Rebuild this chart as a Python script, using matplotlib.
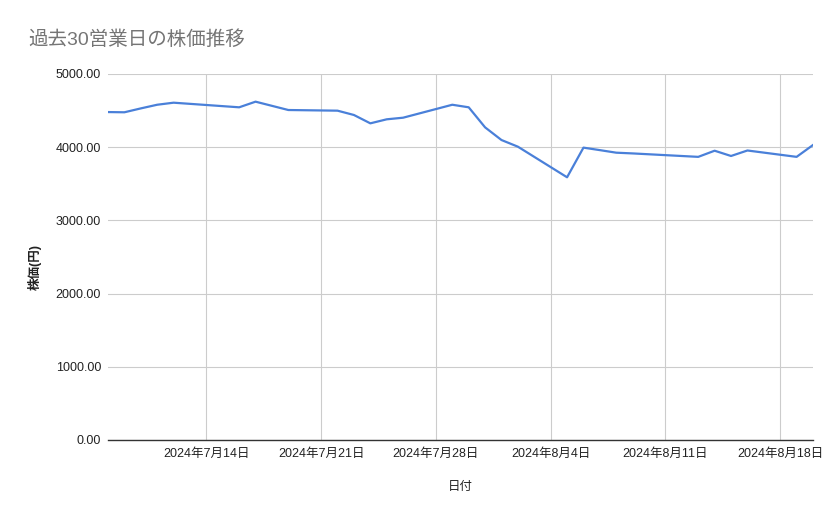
import matplotlib
matplotlib.use("Agg")
import matplotlib.pyplot as plt
import matplotlib.dates as mdates
import matplotlib.ticker as mticker
import pandas as pd

plt.rcParams['font.family'] = ['Liberation Sans', 'Noto Sans CJK JP', 'DejaVu Sans']

dates = ["2024-07-08", "2024-07-09", "2024-07-10", "2024-07-11", "2024-07-12",
         "2024-07-16", "2024-07-17", "2024-07-18", "2024-07-19",
         "2024-07-22", "2024-07-23", "2024-07-24", "2024-07-25", "2024-07-26",
         "2024-07-29", "2024-07-30", "2024-07-31", "2024-08-01", "2024-08-02",
         "2024-08-05", "2024-08-06", "2024-08-07", "2024-08-08", "2024-08-09",
         "2024-08-13", "2024-08-14", "2024-08-15", "2024-08-16",
         "2024-08-19", "2024-08-20"]
prices = [4480, 4477, 4530, 4580, 4608,
          4545, 4622, 4565, 4508,
          4499, 4440, 4326, 4381, 4403,
          4580, 4545, 4271, 4098, 4007,
          3589, 3994, 3960, 3925, 3915,
          3868, 3952, 3880, 3955,
          3868, 4030]

title = "過去30営業日の株価推移"
xlabel = "日付"
ylabel = "株価(円)"
yticks = [0, 1000, 2000, 3000, 4000, 5000]

x = pd.to_datetime(dates)

fig = plt.figure(figsize=(8.39, 5.19), dpi=100)
ax = fig.add_axes([108/839, 1-440/519, (813-108)/839, (440-74)/519])

ax.plot(x, prices, color='#4a80d9', linewidth=1.6, zorder=3)

ax.set_ylim(0, 5000)
ax.set_xlim(x[0], x[-1])
ax.set_yticks(yticks)
ax.yaxis.set_major_formatter(mticker.FuncFormatter(lambda v, p: f"{v:.2f}"))
ax.xaxis.set_major_locator(mdates.WeekdayLocator(byweekday=mdates.SU))
ax.xaxis.set_major_formatter(mticker.FuncFormatter(
    lambda v, p: (lambda d: f"{d.year}年{d.month}月{d.day}日")(mdates.num2date(v))))

ax.grid(True, color='#cccccc', linewidth=0.8, zorder=0)
for s in ['top', 'right', 'left']:
    ax.spines[s].set_visible(False)
ax.spines['bottom'].set_color('#333333')
ax.spines['bottom'].set_linewidth(1.0)
ax.spines['bottom'].set_zorder(4)
ax.tick_params(axis='both', length=0, labelsize=9, colors='#222222')
ax.tick_params(axis='y', pad=5)
ax.tick_params(axis='x', pad=6)

ax.set_xlabel(xlabel, fontsize=9, color='#222222')
ax.xaxis.set_label_coords((460-108)/705, -(481-440)/366)
ax.set_ylabel(ylabel, fontsize=9, color='#222222', fontweight='bold')
ax.yaxis.set_label_coords((42-108)/705, (440-267)/366)

fig.text(28/839, 1-40/519, title, fontsize=14, color='#757575', va='center', ha='left')

fig.savefig("out.png", dpi=100)
